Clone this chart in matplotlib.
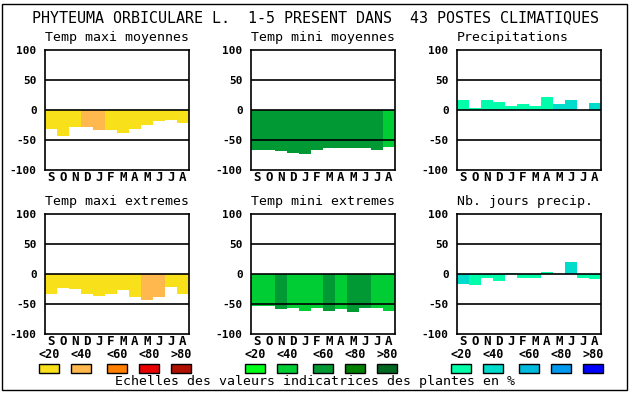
import matplotlib
matplotlib.use('Agg')
import matplotlib.pyplot as plt
from matplotlib.patches import Rectangle

months = ['S', 'O', 'N', 'D', 'J', 'F', 'M', 'A', 'M', 'J', 'J', 'A']

# values (in %) and colour class (0..4 -> <20 .. >80) for each panel
tmax_moy = [-32, -44, -28, -28, -34, -33, -38, -32, -25, -18, -17, -21]
tmax_moy_cls = [0, 0, 0, 1, 1, 0, 0, 0, 0, 0, 0, 0]
tmin_moy = [-66, -66, -68, -71, -73, -66, -63, -63, -63, -63, -66, -61]
tmin_moy_cls = [2, 2, 2, 2, 2, 2, 2, 2, 2, 2, 2, 1]
precip = [17, 3, 17, 13, 7, 10, 7, 22, 10, 17, 0, 12]
precip_cls = [0, 0, 0, 0, 0, 0, 0, 0, 1, 1, 0, 1]
tmax_ext = [-33, -23, -25, -33, -36, -34, -26, -38, -43, -38, -22, -33]
tmax_ext_cls = [0, 0, 0, 0, 0, 0, 0, 0, 1, 1, 0, 0]
tmin_ext = [-53, -54, -58, -56, -61, -56, -61, -58, -64, -56, -56, -61]
tmin_ext_cls = [1, 1, 2, 1, 1, 1, 2, 1, 2, 2, 1, 1]
nb_jours = [-16, -18, -6, -11, 2, -6, -6, 4, 0, 20, -6, -8]
nb_jours_cls = [1, 0, 0, 0, 0, 0, 0, 0, 0, 1, 0, 0]

yellows = ['#f8e11a', '#ffb84d', '#ff7f00', '#e80000', '#b01000']
greens = ['#00ff19', '#00cc33', '#009933', '#007f00', '#006622']
blues = ['#00ffaa', '#00dccc', '#00bbdd', '#0099ee', '#0000ff']
scale_labels = ['<20', '<40', '<60', '<80', '>80']

panels = [
    ('Temp maxi moyennes', tmax_moy, tmax_moy_cls, yellows, 45, 50),
    ('Temp mini moyennes', tmin_moy, tmin_moy_cls, greens, 251, 50),
    ('Precipitations', precip, precip_cls, blues, 457, 50),
    ('Temp maxi extremes', tmax_ext, tmax_ext_cls, yellows, 45, 214),
    ('Temp mini extremes', tmin_ext, tmin_ext_cls, greens, 251, 214),
    ('Nb. jours precip.', nb_jours, nb_jours_cls, blues, 457, 214),
]

W, H = 630, 394
fig = plt.figure(figsize=(W / 100, H / 100), dpi=100)
mono = 'DejaVu Sans Mono'

# outer frame
fig.patches.append(Rectangle((2 / W, 1 - 390 / H), 625 / W, 386 / H,
                             transform=fig.transFigure, fill=False,
                             edgecolor='black', linewidth=1))

fig.text(315 / W, 1 - 18 / H,
         'PHYTEUMA ORBICULARE L.  1-5 PRESENT DANS  43 POSTES CLIMATIQUES',
         ha='center', va='center', family=mono, fontsize=10.8)

for title, vals, cls, pal, px, py in panels:
    ax = fig.add_axes([px / W, 1 - (py + 120) / H, 144 / W, 120 / H])
    ax.bar(range(12), vals, width=1, align='edge',
           color=[pal[c] for c in cls], linewidth=0)
    for y in (50, 0, -50):
        ax.axhline(y, color='black', linewidth=1.2)
    ax.set_xlim(0, 12)
    ax.set_ylim(-100, 100)
    ax.set_yticks([100, 50, 0, -50, -100])
    ax.set_yticklabels(['100', '50', '0', '-50', '-100'],
                       family=mono, fontweight='bold', fontsize=8)
    ax.set_xticks([i + 0.5 for i in range(12)])
    ax.set_xticklabels(months, family=mono, fontweight='bold', fontsize=9)
    ax.tick_params(axis='x', length=0, pad=1)
    ax.tick_params(axis='y', length=0, pad=6)
    for s in ax.spines.values():
        s.set_linewidth(1.2)
    fig.text(px / W, 1 - (py - 12) / H, title, ha='left', va='center',
             family=mono, fontsize=9.5)

# colour scales
for g, pal in enumerate([yellows, greens, blues]):
    starts = [39, 71, 107, 139, 171]
    for i in range(5):
        x0 = starts[i] + 206 * g
        fig.patches.append(Rectangle((x0 / W, 1 - 373 / H), 20 / W, 9 / H,
                                     transform=fig.transFigure,
                                     facecolor=pal[i], edgecolor='black',
                                     linewidth=1))
        fig.text((x0 + 10) / W, 1 - 355 / H, scale_labels[i], ha='center',
                 va='center', family=mono, fontweight='bold', fontsize=8.5)

fig.text(315 / W, 1 - 382 / H,
         'Echelles des valeurs indicatrices des plantes en %',
         ha='center', va='center', family=mono, fontsize=9.5)

fig.savefig('out.png', dpi=100)
